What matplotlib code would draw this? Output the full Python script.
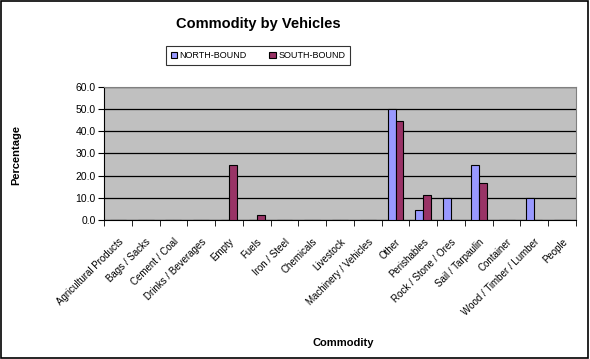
import matplotlib
matplotlib.use("Agg")
import matplotlib.pyplot as plt
import numpy as np
from matplotlib.patches import Rectangle

plt.rcParams['font.family'] = ['Liberation Sans', 'DejaVu Sans']

# Data
categories = ["Agricultural Products", "Bags / Sacks", "Cement / Coal", "Drinks / Beverages",
              "Empty", "Fuels", "Iron / Steel", "Chemicals", "Livestock",
              "Machinery / Vehicles", "Other", "Perishables", "Rock / Stone / Ores",
              "Sail / Tarpaulin", "Container", "Wood / Timber / Lumber", "People"]
north_bound = [0, 0, 0, 0, 0, 0, 0, 0, 0, 0, 50.0, 4.5, 10.0, 25.0, 0, 10.0, 0]
south_bound = [0, 0, 0, 0, 25.0, 2.2, 0, 0, 0, 0, 44.6, 11.1, 0, 16.6, 0, 0, 0]
y_ticks = [0, 10, 20, 30, 40, 50, 60]

fig = plt.figure(figsize=(5.9, 3.59), dpi=100)
fig.patch.set_facecolor("white")
ax = fig.add_axes([104 / 590, 1 - 220 / 359, 472 / 590, 133 / 359])
ax.set_facecolor("#C0C0C0")

x = np.arange(len(categories))
w = 1 / 3.5
ax.bar(x - w / 2, north_bound, w, color="#9999FF", edgecolor="black", linewidth=0.8,
       label="NORTH-BOUND", zorder=3)
ax.bar(x + w / 2, south_bound, w, color="#993366", edgecolor="black", linewidth=0.8,
       label="SOUTH-BOUND", zorder=3)

ax.set_xlim(-0.5, len(categories) - 0.5)
ax.set_ylim(0, 60)
ax.set_yticks(y_ticks)
ax.set_yticklabels([f"{v:.1f}" for v in y_ticks], fontsize=7.5)
ax.yaxis.grid(True, color="black", linewidth=0.9, zorder=1)
ax.set_axisbelow(True)

ax.set_xticks(x)
ax.set_xticklabels(categories, rotation=45, ha="right", rotation_mode="anchor", fontsize=7)
ax.set_xticks(np.arange(-0.5, len(categories)), minor=True)
ax.tick_params(axis="x", which="major", length=0, pad=12)
ax.tick_params(axis="x", which="minor", length=4, direction="out", color="black")
ax.tick_params(axis="y", length=4, direction="out", color="black", pad=2)

for side in ["top", "right"]:
    ax.spines[side].set_color("#808080")
    ax.spines[side].set_linewidth(0.8)
ax.spines["left"].set_color("black")
ax.spines["bottom"].set_color("black")

fig.text(258 / 590, 1 - 24 / 359, "Commodity by Vehicles", ha="center", va="center",
         fontsize=10.5, fontweight="bold")
fig.text(16 / 590, 1 - 155 / 359, "Percentage", rotation=90, ha="center", va="center",
         fontsize=8, fontweight="bold")
fig.text(343 / 590, 1 - 343 / 359, "Commodity", ha="center", va="center",
         fontsize=8, fontweight="bold")

leg = fig.legend(loc="center", bbox_to_anchor=(258 / 590, 1 - 55.5 / 359), ncol=2,
                 fontsize=6.5, frameon=True, fancybox=False, handlelength=0.7,
                 handleheight=0.7, handletextpad=0.3, columnspacing=2.5,
                 borderpad=0.5, borderaxespad=0)
leg.get_frame().set_edgecolor("black")
leg.get_frame().set_linewidth(0.8)

fig.patches.append(Rectangle((0.002, 0.003), 0.994, 0.993, transform=fig.transFigure,
                             fill=False, edgecolor="black", linewidth=1.2))

fig.savefig("out.png", dpi=100)
